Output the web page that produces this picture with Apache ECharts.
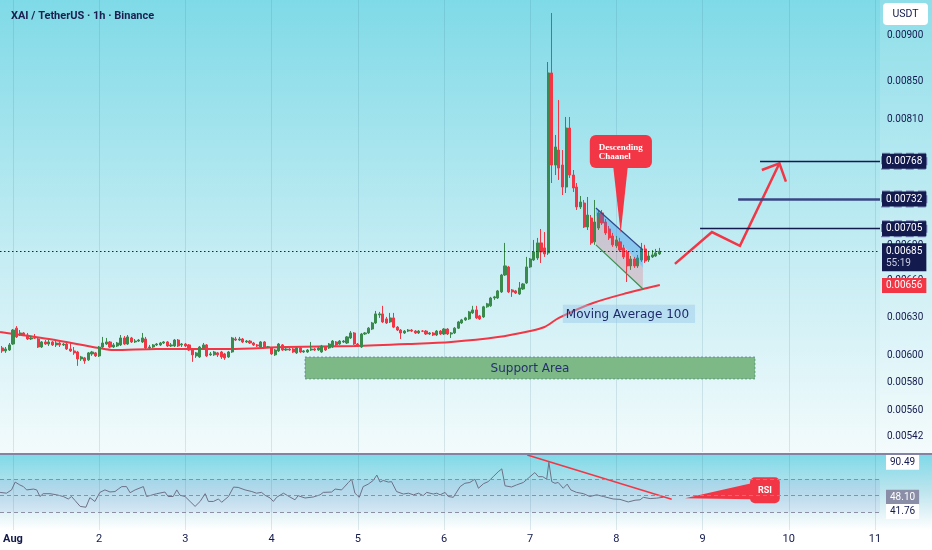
<!DOCTYPE html>
<html><head><meta charset="utf-8">
<script src="https://cdn.jsdelivr.net/npm/echarts@6/dist/echarts.min.js"></script>
<style>html,body{margin:0;padding:0;background:#fff}#c{width:932px;height:550px}</style>
</head><body><div id="c"></div>
<script>
// ---------- data ----------
const firstCandleHour = -3; // hours since Aug 1 00:00
const candles = [ // [open, close, low, high]
[0.006061,0.006038,0.006023,0.006076],[0.006038,0.006053,0.006023,0.006068],[0.006045,0.006084,0.006038,0.006099],
[0.006091,0.006200,0.006084,0.006208],[0.006215,0.006146,0.006138,0.006231],[0.006169,0.006177,0.006153,0.006200],
[0.006177,0.006161,0.006153,0.006184],[0.006161,0.006130,0.006122,0.006177],[0.006130,0.006138,0.006122,0.006153],
[0.006138,0.006137,0.006130,0.006169],[0.006130,0.006068,0.006061,0.006138],[0.006068,0.006107,0.006061,0.006114],
[0.006107,0.006091,0.006084,0.006122],[0.006091,0.006107,0.006076,0.006122],[0.006107,0.006084,0.006076,0.006114],
[0.006084,0.006099,0.006068,0.006114],[0.006099,0.006084,0.006068,0.006107],[0.006084,0.006091,0.006076,0.006099],
[0.006091,0.006053,0.006045,0.006099],[0.006053,0.006038,0.006030,0.006099],[0.006038,0.006023,0.006008,0.006068],
[0.006030,0.005977,0.005925,0.006038],[0.005977,0.005992,0.005962,0.006000],[0.005985,0.005962,0.005940,0.005992],
[0.005970,0.006023,0.005962,0.006030],[0.006015,0.006030,0.006000,0.006038],[0.006023,0.006000,0.005992,0.006030],
[0.006000,0.006068,0.005992,0.006076],[0.006068,0.006099,0.006061,0.006146],[0.006091,0.006107,0.006084,0.006138],
[0.006107,0.006068,0.006061,0.006114],[0.006068,0.006084,0.006061,0.006099],[0.006076,0.006099,0.006068,0.006107],
[0.006084,0.006138,0.006076,0.006161],[0.006138,0.006091,0.006084,0.006153],[0.006091,0.006146,0.006084,0.006161],
[0.006138,0.006107,0.006099,0.006146],[0.006107,0.006114,0.006099,0.006130],[0.006114,0.006122,0.006107,0.006130],
[0.006107,0.006138,0.006099,0.006177],[0.006130,0.006061,0.006053,0.006146],[0.006061,0.006068,0.006045,0.006084],
[0.006068,0.006084,0.006061,0.006091],[0.006084,0.006091,0.006076,0.006099],[0.006084,0.006099,0.006076,0.006107],
[0.006099,0.006107,0.006091,0.006114],[0.006107,0.006076,0.006068,0.006114],[0.006076,0.006084,0.006068,0.006099],
[0.006076,0.006122,0.006068,0.006130],[0.006122,0.006076,0.006068,0.006130],[0.006084,0.006091,0.006068,0.006099],
[0.006091,0.006076,0.006068,0.006099],[0.006084,0.006045,0.006038,0.006091],[0.006045,0.006008,0.005955,0.006053],
[0.006000,0.006023,0.005985,0.006030],[0.005992,0.006068,0.005985,0.006076],[0.006061,0.006084,0.006053,0.006099],
[0.006084,0.006000,0.005992,0.006091],[0.006008,0.006015,0.006000,0.006030],[0.006008,0.006030,0.006000,0.006038],
[0.006023,0.006008,0.005992,0.006030],[0.006030,0.005992,0.005977,0.006038],[0.006015,0.005985,0.005970,0.006023],
[0.005992,0.006030,0.005985,0.006038],[0.006030,0.006138,0.006023,0.006146],[0.006130,0.006122,0.006114,0.006146],
[0.006122,0.006130,0.006114,0.006146],[0.006130,0.006107,0.006099,0.006138],[0.006107,0.006114,0.006099,0.006122],
[0.006114,0.006099,0.006091,0.006122],[0.006099,0.006084,0.006076,0.006107],[0.006084,0.006076,0.006068,0.006091],
[0.006068,0.006107,0.006061,0.006114],[0.006107,0.006068,0.006061,0.006114],[0.006068,0.006069,0.006061,0.006076],
[0.006061,0.006015,0.006008,0.006068],[0.006008,0.006045,0.006000,0.006053],[0.006038,0.006091,0.006030,0.006099],
[0.006084,0.006045,0.006038,0.006091],[0.006045,0.006053,0.006038,0.006061],[0.006053,0.006045,0.006038,0.006061],
[0.006053,0.006030,0.006023,0.006061],[0.006023,0.006061,0.006015,0.006068],[0.006061,0.006030,0.006023,0.006068],
[0.006030,0.006038,0.006023,0.006045],[0.006030,0.006045,0.006023,0.006053],[0.006045,0.006053,0.006038,0.006107],
[0.006053,0.006045,0.006038,0.006061],[0.006045,0.006061,0.006038,0.006068],[0.006030,0.006076,0.006023,0.006084],
[0.006068,0.006045,0.006038,0.006076],[0.006061,0.006091,0.006053,0.006099],[0.006068,0.006114,0.006061,0.006122],
[0.006107,0.006084,0.006076,0.006114],[0.006091,0.006114,0.006084,0.006122],[0.006107,0.006114,0.006099,0.006122],
[0.006099,0.006146,0.006091,0.006153],[0.006138,0.006177,0.006130,0.006192],[0.006177,0.006091,0.006084,0.006184],
[0.006091,0.006076,0.006068,0.006099],[0.006068,0.006169,0.006061,0.006177],[0.006169,0.006177,0.006161,0.006184],
[0.006177,0.006215,0.006169,0.006223],[0.006208,0.006256,0.006200,0.006264],[0.006256,0.006328,0.006248,0.006352],
[0.006320,0.006328,0.006296,0.006344],[0.006328,0.006264,0.006256,0.006393],[0.006288,0.006256,0.006248,0.006304],
[0.006264,0.006296,0.006256,0.006336],[0.006296,0.006223,0.006215,0.006336],[0.006223,0.006200,0.006192,0.006231],
[0.006200,0.006177,0.006130,0.006208],[0.006177,0.006192,0.006169,0.006200],[0.006192,0.006200,0.006184,0.006208],
[0.006200,0.006192,0.006184,0.006208],[0.006192,0.006177,0.006169,0.006200],[0.006177,0.006192,0.006169,0.006200],
[0.006192,0.006191,0.006184,0.006200],[0.006192,0.006169,0.006161,0.006200],[0.006169,0.006177,0.006161,0.006184],
[0.006177,0.006161,0.006153,0.006184],[0.006161,0.006192,0.006153,0.006200],[0.006192,0.006169,0.006161,0.006200],
[0.006169,0.006208,0.006161,0.006215],[0.006208,0.006169,0.006161,0.006215],[0.006169,0.006177,0.006138,0.006184],
[0.006177,0.006215,0.006169,0.006223],[0.006215,0.006264,0.006208,0.006272],[0.006256,0.006280,0.006248,0.006288],
[0.006280,0.006296,0.006272,0.006304],[0.006288,0.006344,0.006280,0.006352],[0.006336,0.006360,0.006328,0.006393],
[0.006360,0.006296,0.006288,0.006393],[0.006312,0.006288,0.006280,0.006320],[0.006304,0.006385,0.006296,0.006393],
[0.006385,0.006409,0.006377,0.006417],[0.006393,0.006457,0.006385,0.006466],[0.006457,0.006466,0.006441,0.006474],
[0.006457,0.006515,0.006449,0.006523],[0.006507,0.006648,0.006498,0.006657],[0.006648,0.006725,0.006640,0.006924],
[0.006716,0.006507,0.006498,0.006725],[0.006523,0.006507,0.006466,0.006531],[0.006515,0.006498,0.006490,0.006523],
[0.006490,0.006540,0.006482,0.006589],[0.006531,0.006573,0.006523,0.006581],[0.006581,0.006716,0.006573,0.006802],
[0.006716,0.006784,0.006708,0.006793],[0.006776,0.006845,0.006767,0.006950],[0.006793,0.006924,0.006776,0.006968],
[0.006924,0.006845,0.006750,0.007047],[0.006880,0.006828,0.006802,0.007020],[0.006836,0.008588,0.006819,0.008708],
[0.008588,0.007642,0.007470,0.009266],[0.007642,0.007819,0.007546,0.007939],[0.007789,0.007613,0.007499,0.008299],
[0.007642,0.007432,0.007357,0.007789],[0.007432,0.008009,0.007376,0.008122],[0.008009,0.007546,0.007518,0.008122],
[0.007546,0.007423,0.007385,0.007594],[0.007432,0.007247,0.007219,0.007470],[0.007247,0.007292,0.007228,0.007348],
[0.007283,0.007065,0.007056,0.007311],[0.007065,0.007173,0.007038,0.007339],[0.007146,0.006924,0.006907,0.007173],
[0.006933,0.007110,0.006907,0.007311],[0.007056,0.007192,0.007038,0.007219],[0.007192,0.007101,0.007083,0.007219],
[0.007110,0.007012,0.006994,0.007137],[0.007047,0.006968,0.006950,0.007074],[0.006985,0.006907,0.006889,0.007012],
[0.006898,0.006950,0.006880,0.006985],[0.006933,0.006862,0.006845,0.006968],[0.006880,0.006802,0.006784,0.006907],
[0.006845,0.006725,0.006589,0.006862],[0.006725,0.006784,0.006691,0.006810],[0.006784,0.006725,0.006708,0.006802],
[0.006725,0.006793,0.006708,0.006819],[0.006776,0.006871,0.006759,0.006924],[0.006871,0.006767,0.006750,0.006907],
[0.006776,0.006810,0.006759,0.006845],[0.006802,0.006819,0.006793,0.006862],[0.006810,0.006836,0.006802,0.006871],
[0.006828,0.006850,0.006819,0.006880]
];
const ma100 = [[-3.6,0.006185],[10,0.006130],[24,0.006060],[28,0.006045],[40,0.006053],[49,0.006053],[60,0.006053],
[76,0.006068],[95,0.006076],[110,0.006091],[122,0.006107],[135,0.006145],[144,0.006193],[148,0.006224],
[152,0.006296],[161.5,0.006416],[171,0.006498],[180.1,0.006564]];
const rsi = [[-3.6,54],[-1.8,53],[-0.4,57],[0.6,66.5],[1.9,63],[2.9,61],[3.8,57],[5.7,58],[6.6,57],[7.5,49],[8.4,52.4],
[10.3,52.4],[12.2,51],[14,49],[15.4,46],[16.3,49],[17.3,44],[18.7,37],[20.3,36],[21.4,47.6],[22.8,43],[24.2,54],[25.6,57],
[27,54.5],[28.4,55],[29.3,58],[30.3,61],[31.6,61],[32.6,53.6],[34,57],[36.3,61],[37.2,49],[40,52.4],[42.3,54.4],[43.2,49],
[44.6,49],[45.6,57],[46.5,50.5],[47.9,49],[49.3,43],[50.7,37],[52.1,43],[53.5,52.4],[54.4,43],[55.8,43],[57.2,46],[58.1,42],
[60,49],[61.4,60.4],[62.7,60],[64.6,57],[66.5,55],[67.8,53],[69.2,54],[70.2,50.4],[71.6,47.2],[72.5,43],[73.4,48],[75.3,53],
[77.1,48.4],[78.5,45],[79.4,50],[81.3,47.2],[83.6,48.4],[85.5,51],[86.4,54],[88.7,54.4],[89.7,58],[91.5,57],[93.4,66],
[94.3,70],[95.2,53],[96.4,48],[97.5,61],[98.9,64],[100.3,68.4],[101.3,75],[102.2,66.5],[103.1,68.4],[104.5,66.5],[105.4,67],
[106.8,55],[108.7,52],[110.1,53],[111.5,51],[112.9,53],[114.2,50],[115.2,54],[116.1,53],[117,52],[118,53],[118.9,51],
[120.3,54],[121.2,49],[122.6,48],[124.5,61],[125.8,65],[127.2,66],[128.6,70],[129.6,59],[131,64.5],[132.3,67],[133.7,73],
[135.1,79],[136.1,82.5],[137,62],[138.8,60.5],[140.2,63],[142.1,66],[143.5,71.3],[145.3,78],[146.3,73],[147.5,73],[148.6,70],
[149.2,90.49],[150,67],[150.9,65],[151.8,66],[153.2,59],[154.3,64],[155.3,57],[156.9,54],[158.8,52.5],[160.6,49],[162.5,51],
[164.4,49],[167.1,46],[169,45.5],[171.3,42.4],[173.2,44.5],[174.6,45],[175.5,48],[177.4,46.5],[179.2,47],[181.1,48.1]];
const priceTicks = [0.00900,0.00850,0.00810,0.00770,0.00730,0.00690,0.00660,0.00630,0.00600,0.00580,0.00560,0.00542];
const dayTicks = [0,24,48,72,96,120,144,168,192,216,240];
const dayLabels = ['Aug','2','3','4','5','6','7','8','9','10','11'];
const currentPrice = 0.00685;
const countdown = '55:19';
const maLastValue = 0.00656;
const targetLevels = [0.00768, 0.00732, 0.00705];
const targetStartHours = [208.0, 201.9, 191.3];
const rsiLevels = [70, 50, 30];
const rsiHigh = 90.49, rsiNow = 48.10, rsiAvg = 41.76;
// drawings (hour, price) / (hour, rsi)
const channelUpper = [[162.3,0.007237],[175.4,0.006862]];
const channelLower = [[162.3,0.006907],[175.4,0.006531]];
const forecastPath = [[184.3,0.006742],[194.6,0.007020],[202.4,0.006898],[213.4,0.007659]];
const forecastHead = [[208.5,0.007594],[213.4,0.007659],[215.2,0.007483]];
const supportArea = [[81.3,0.005992],[206.6,0.005827]];
const maLabelBox = [[153.1,0.006401],[189.9,0.006256]];
const calloutBox = [[160.6,0.007939],[177.9,0.007613]];
const calloutBaseHours = [167.1,171.2];
const calloutTip = [169.2,0.007012];
const rsiTrend = [[143.2,99.3],[183.4,45.6]];
const rsiBox = [[205.2,72.3],[213.5,40.8]];
const rsiWedge = [[187.1,46.8],[205.6,65],[205.6,45.6]];

// ---------- chart ----------
const xMin = -3.62, xMax = 241.4;
const yMin = 0.005312, yMax = 0.009420;
const NAVY = '#131a4d', RED = '#f23645', GREEN = '#3a8a4d';
const HIDDEN = {color:'rgba(0,0,0,0)', width:0};
const gridColor = 'rgba(60,120,140,0.16)';
const chart = echarts.init(document.getElementById('c'));

const candleData = candles.map((c, i) => [firstCandleHour + i, c[0], c[1], c[2], c[3]]);

function boxLabel(text, bg, fg, extra) {
  return Object.assign({show:true, position:'end', distance:2, formatter:text, backgroundColor:bg, color:fg,
    fontSize:10, fontFamily:'Roboto', padding:[2,4,1,4], lineHeight:12}, extra || {});
}

function drawMain(params, api) {
  const c = p => api.coord(p);
  const kids = [];
  // support area
  const s0 = c(supportArea[0]), s1 = c(supportArea[1]);
  kids.push({type:'rect', shape:{x:s0[0], y:s0[1], width:s1[0]-s0[0], height:s1[1]-s0[1]},
    style:{fill:'#7cb987', stroke:'rgba(60,110,120,0.55)', lineWidth:1, lineDash:[2,2]}});
  kids.push({type:'text', style:{text:'Support Area', x:(s0[0]+s1[0])/2, y:(s0[1]+s1[1])/2+1, fill:'#27306e',
    font:'12px "DejaVu Sans"', align:'center', verticalAlign:'middle', textAlign:'center', textVerticalAlign:'middle'}});
  // MA label
  const m0 = c(maLabelBox[0]), m1 = c(maLabelBox[1]);
  kids.push({type:'rect', shape:{x:m0[0], y:m0[1], width:m1[0]-m0[0], height:m1[1]-m0[1]},
    style:{fill:'rgba(150,200,235,0.45)'}});
  kids.push({type:'text', style:{text:'Moving Average 100', x:m0[0]+3, y:(m0[1]+m1[1])/2+1, fill:'#1f2a6b',
    font:'12px "DejaVu Sans"', align:'left', verticalAlign:'middle', textAlign:'left', textVerticalAlign:'middle'}});
  // descending channel
  const u0 = c(channelUpper[0]), u1 = c(channelUpper[1]), l0 = c(channelLower[0]), l1 = c(channelLower[1]);
  const mix = (a, b, t) => [a[0] + (b[0]-a[0])*t, a[1] + (b[1]-a[1])*t];
  const d0 = mix(u0, l0, 0.2), d1 = mix(u1, l1, 0.45);
  kids.push({type:'polygon', shape:{points:[u0, u1, d1, d0]}, style:{fill:'rgba(40,135,230,0.36)'}});
  kids.push({type:'polygon', shape:{points:[d0, d1, l1, l0]}, style:{fill:'rgba(235,70,90,0.22)'}});
  kids.push({type:'line', shape:{x1:u0[0], y1:u0[1], x2:u1[0], y2:u1[1]}, style:{stroke:'#2c4a8c', lineWidth:1.2}});
  kids.push({type:'line', shape:{x1:l0[0], y1:l0[1], x2:l1[0], y2:l1[1]}, style:{stroke:'#3d8f50', lineWidth:1.2}});
  // forecast arrow
  kids.push({type:'polyline', shape:{points:forecastPath.map(c)}, style:{stroke:RED, lineWidth:2.5, fill:'none', lineJoin:'miter'}});
  kids.push({type:'polyline', shape:{points:forecastHead.map(c)}, style:{stroke:RED, lineWidth:2.5, fill:'none'}});
  // callout
  const b0 = c(calloutBox[0]), b1 = c(calloutBox[1]), tip = c(calloutTip);
  const bx0 = c([calloutBaseHours[0], calloutBox[1][1]]), bx1 = c([calloutBaseHours[1], calloutBox[1][1]]);
  kids.push({type:'polygon', shape:{points:[[bx0[0], bx0[1]-2], [bx1[0], bx1[1]-2], tip]}, style:{fill:RED}});
  kids.push({type:'rect', shape:{x:b0[0], y:b0[1], width:b1[0]-b0[0], height:b1[1]-b0[1], r:6}, style:{fill:RED}});
  kids.push({type:'text', style:{text:'Descending', x:b0[0]+9, y:b0[1]+13, fill:'#fff',
    font:'bold 9px "Liberation Serif"', align:'left', verticalAlign:'middle', textAlign:'left', textVerticalAlign:'middle'}});
  kids.push({type:'text', style:{text:'Chaanel', x:b0[0]+9, y:b0[1]+22, fill:'#fff',
    font:'bold 9px "Liberation Serif"', align:'left', verticalAlign:'middle', textAlign:'left', textVerticalAlign:'middle'}});
  return {type:'group', children:kids};
}

function drawRsi(params, api) {
  const c = p => api.coord(p);
  const kids = [];
  const t0 = c(rsiTrend[0]), t1 = c(rsiTrend[1]);
  kids.push({type:'line', shape:{x1:t0[0], y1:t0[1], x2:t1[0], y2:t1[1]}, style:{stroke:RED, lineWidth:1.5}});
  kids.push({type:'polygon', shape:{points:rsiWedge.map(c)}, style:{fill:RED}});
  const b0 = c(rsiBox[0]), b1 = c(rsiBox[1]);
  kids.push({type:'rect', shape:{x:b0[0], y:b0[1], width:b1[0]-b0[0], height:b1[1]-b0[1], r:5}, style:{fill:RED}});
  kids.push({type:'text', style:{text:'RSI', x:(b0[0]+b1[0])/2, y:(b0[1]+b1[1])/2, fill:'#fff',
    font:'bold 9px Roboto', align:'center', verticalAlign:'middle', textAlign:'center', textVerticalAlign:'middle'}});
  return {type:'group', children:kids};
}

const option = {
  animation:false,
  backgroundColor:'#ffffff',
  title:{text:'XAI / TetherUS · 1h · Binance', left:6, top:6,
    textStyle:{color:'#1b1e4e', fontSize:11, fontWeight:'bold', fontFamily:'Roboto'}},
  graphic:{elements:[
    {type:'rect', silent:true, z:-10, shape:{x:0, y:0, width:932, height:453},
      style:{fill:new echarts.graphic.LinearGradient(0,0,0,1,[{offset:0,color:'#7fdae7'},{offset:0.55,color:'#c3ecf3'},{offset:1,color:'#f3fbfc'}])}},
    {type:'rect', silent:true, z:-9, shape:{x:880, y:0, width:52, height:453}, style:{fill:'rgba(255,255,255,0.12)'}},
    {type:'rect', silent:true, z:-10, shape:{x:0, y:455, width:932, height:75},
      style:{fill:new echarts.graphic.LinearGradient(0,0,0,1,[{offset:0,color:'#7fdae7'},{offset:0.5,color:'#bfe5ee'},{offset:1,color:'#ffffff'}])}},
    {type:'rect', silent:true, z:100, shape:{x:0, y:453, width:932, height:2}, style:{fill:'#8583a3', stroke:'none'}},
    {type:'rect', silent:true, z:50, shape:{x:883, y:3, width:45, height:22, r:4}, style:{fill:'#ffffff'}},
    {type:'text', silent:true, z:51, x:905.5, y:14.5, style:{text:'USDT', fill:NAVY, font:'10.5px Roboto', align:'center', verticalAlign:'middle', textAlign:'center', textVerticalAlign:'middle'}}
  ]},
  grid:[{left:0, right:52, top:0, height:452}, {left:0, right:52, top:455, height:75}],
  xAxis:[
    {type:'value', gridIndex:0, min:xMin, max:xMax, show:false},
    {type:'value', gridIndex:1, min:xMin, max:xMax, axisLine:{show:false}, axisTick:{show:false}, splitLine:{show:false},
      axisLabel:{customValues:dayTicks, margin:4, color:NAVY, fontSize:11, fontFamily:'Roboto',
        formatter:v => { const i = dayTicks.indexOf(Math.round(v)); const t = i >= 0 ? dayLabels[i] : ''; return i === 0 ? '{b|' + t + '}' : t; },
        rich:{b:{fontWeight:'bold', color:NAVY, fontSize:11, fontFamily:'Roboto'}}}}
  ],
  yAxis:[
    {type:'log', logBase:10, gridIndex:0, position:'right', min:yMin, max:yMax,
      axisLine:{show:false}, axisTick:{show:false}, splitLine:{show:false},
      axisLabel:{customValues:priceTicks, formatter:v => Number(v).toFixed(5), color:NAVY, fontSize:10, fontFamily:'Roboto', margin:7}},
    {type:'value', gridIndex:1, position:'right', min:8.4, max:99.3, show:false}
  ],
  series:[
    {type:'line', xAxisIndex:0, yAxisIndex:0, data:[[0,0.006]], symbol:'none', lineStyle:{opacity:0}, silent:true, z:1,
      markLine:{silent:true, z:1, symbol:['none','none'], label:{show:false}, lineStyle:{color:gridColor, width:1, type:'solid'},
        data:[...priceTicks.map(v => ({yAxis:v})), ...dayTicks.map(v => ({xAxis:v}))]}},
    {type:'line', xAxisIndex:1, yAxisIndex:1, data:[[0,50]], symbol:'none', lineStyle:{opacity:0}, silent:true, z:1,
      markLine:{silent:true, z:1, symbol:['none','none'], label:{show:false}, lineStyle:{color:gridColor, width:1, type:'solid'},
        data:dayTicks.map(v => ({xAxis:v}))},
      markArea:{silent:true, itemStyle:{color:'rgba(100,110,210,0.09)'}, data:[[{yAxis:rsiLevels[2]},{yAxis:rsiLevels[0]}]]}},
    {type:'line', name:'MA100', xAxisIndex:0, yAxisIndex:0, data:ma100, smooth:0.3, symbol:'none', z:3,
      lineStyle:{color:RED, width:2},
      markLine:{silent:true, symbol:['none','none'], z:7,
        data:[
          [{coord:[ma100[ma100.length-1][0], maLastValue], lineStyle:HIDDEN, label:boxLabel(maLastValue.toFixed(5), RED, '#fff')},
           {coord:[xMax, maLastValue]}],
          [{coord:[xMin, currentPrice], lineStyle:{color:'#1b2150', width:1, type:[1.5,2.5]},
             label:boxLabel('{a|' + currentPrice.toFixed(5) + '}\n{b|' + countdown + '}', NAVY, '#fff',
              {offset:[0,6], padding:[2,4,2,4], rich:{a:{color:'#fff', fontSize:10, fontFamily:'Roboto', lineHeight:12},
                b:{color:'#c9cce2', fontSize:10, fontFamily:'Roboto', lineHeight:12}}})},
           {coord:[xMax, currentPrice]}]
        ]}},
    {type:'candlestick', xAxisIndex:0, yAxisIndex:0, data:candleData, encode:{x:0, y:[1,2,3,4]}, barWidth:2.6, z:4,
      itemStyle:{color:GREEN, color0:RED, borderColor:GREEN, borderColor0:RED, borderWidth:1},
      markLine:{silent:true, symbol:['none','none'], z:7,
        data:targetLevels.map((v, i) => [
            {coord:[targetStartHours[i], v], lineStyle:{color: i === 1 ? '#3a4586' : NAVY, width: i === 1 ? 2.5 : 1.4, type:'solid'},
              label:boxLabel(v.toFixed(5), NAVY, '#fff', {borderColor:'#7d86b8', borderWidth:1, borderType:'dashed'})},
            {coord:[xMax, v]}])}},
    {type:'custom', xAxisIndex:0, yAxisIndex:0, data:[[100,0.006]], renderItem:drawMain, z:5, silent:true},
    {type:'line', name:'RSI', xAxisIndex:1, yAxisIndex:1, data:rsi, symbol:'none', z:3,
      lineStyle:{color:'#6d7186', width:1},
      markLine:{silent:true, symbol:['none','none'], z:6,
        data:[
          ...rsiLevels.map(v => ({yAxis:v, lineStyle:{color:'#8d90a2', width:1, type:[4,3]}, label:{show:false}})),
          {yAxis:rsiHigh, lineStyle:HIDDEN, label:boxLabel(rsiHigh.toFixed(2), '#ffffff', NAVY, {distance:6})},
          {yAxis:rsiNow, lineStyle:HIDDEN, label:boxLabel(rsiNow.toFixed(2), '#8a8ea6', '#fff', {distance:6})},
          {yAxis:rsiAvg, lineStyle:HIDDEN, label:boxLabel(rsiAvg.toFixed(2), '#ffffff', NAVY, {distance:6, offset:[0,9]})}
        ]}},
    {type:'custom', xAxisIndex:1, yAxisIndex:1, data:[[100,50]], renderItem:drawRsi, z:5, silent:true}
  ]
};
chart.setOption(option);
</script>
</body></html>
